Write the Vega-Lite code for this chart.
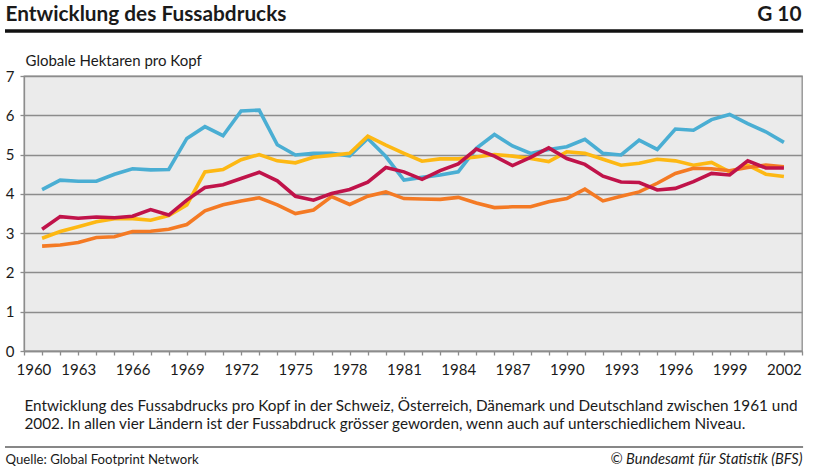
{
  "$schema": "https://vega.github.io/schema/vega-lite/v6.json",
  "width": 778,
  "height": 275,
  "autosize": {"type": "none"},
  "padding": {"left": 24, "top": 76, "right": 18, "bottom": 123},
  "background": "white",
  "config": {
    "font": "Lato",
    "view": {"fill": "#ebebeb", "stroke": "#8c8c8c", "strokeWidth": 1.3}
  },
  "resolve": {
    "scale": {"x": "independent", "y": "independent"},
    "axis": {"x": "independent", "y": "independent"}
  },
  "layer": [
    {
      "data": {
        "values": [
          {"land": "Dänemark", "jahr": 1961, "wert": 4.11}, {"land": "Dänemark", "jahr": 1962, "wert": 4.35}, {"land": "Dänemark", "jahr": 1963, "wert": 4.32}, {"land": "Dänemark", "jahr": 1964, "wert": 4.32}, {"land": "Dänemark", "jahr": 1965, "wert": 4.50}, {"land": "Dänemark", "jahr": 1966, "wert": 4.64}, {"land": "Dänemark", "jahr": 1967, "wert": 4.61}, {"land": "Dänemark", "jahr": 1968, "wert": 4.62}, {"land": "Dänemark", "jahr": 1969, "wert": 5.41}, {"land": "Dänemark", "jahr": 1970, "wert": 5.71}, {"land": "Dänemark", "jahr": 1971, "wert": 5.48}, {"land": "Dänemark", "jahr": 1972, "wert": 6.11}, {"land": "Dänemark", "jahr": 1973, "wert": 6.13}, {"land": "Dänemark", "jahr": 1974, "wert": 5.25}, {"land": "Dänemark", "jahr": 1975, "wert": 4.99}, {"land": "Dänemark", "jahr": 1976, "wert": 5.03}, {"land": "Dänemark", "jahr": 1977, "wert": 5.03}, {"land": "Dänemark", "jahr": 1978, "wert": 4.97}, {"land": "Dänemark", "jahr": 1979, "wert": 5.41}, {"land": "Dänemark", "jahr": 1980, "wert": 4.95}, {"land": "Dänemark", "jahr": 1981, "wert": 4.35}, {"land": "Dänemark", "jahr": 1982, "wert": 4.42}, {"land": "Dänemark", "jahr": 1983, "wert": 4.48}, {"land": "Dänemark", "jahr": 1984, "wert": 4.56}, {"land": "Dänemark", "jahr": 1985, "wert": 5.16}, {"land": "Dänemark", "jahr": 1986, "wert": 5.51}, {"land": "Dänemark", "jahr": 1987, "wert": 5.22}, {"land": "Dänemark", "jahr": 1988, "wert": 5.03}, {"land": "Dänemark", "jahr": 1989, "wert": 5.13}, {"land": "Dänemark", "jahr": 1990, "wert": 5.20}, {"land": "Dänemark", "jahr": 1991, "wert": 5.39}, {"land": "Dänemark", "jahr": 1992, "wert": 5.03}, {"land": "Dänemark", "jahr": 1993, "wert": 4.99}, {"land": "Dänemark", "jahr": 1994, "wert": 5.37}, {"land": "Dänemark", "jahr": 1995, "wert": 5.13}, {"land": "Dänemark", "jahr": 1996, "wert": 5.65}, {"land": "Dänemark", "jahr": 1997, "wert": 5.62}, {"land": "Dänemark", "jahr": 1998, "wert": 5.89}, {"land": "Dänemark", "jahr": 1999, "wert": 6.02}, {"land": "Dänemark", "jahr": 2000, "wert": 5.79}, {"land": "Dänemark", "jahr": 2001, "wert": 5.58}, {"land": "Dänemark", "jahr": 2002, "wert": 5.31},
          {"land": "Deutschland", "jahr": 1961, "wert": 2.87}, {"land": "Deutschland", "jahr": 1962, "wert": 3.04}, {"land": "Deutschland", "jahr": 1963, "wert": 3.16}, {"land": "Deutschland", "jahr": 1964, "wert": 3.29}, {"land": "Deutschland", "jahr": 1965, "wert": 3.37}, {"land": "Deutschland", "jahr": 1966, "wert": 3.37}, {"land": "Deutschland", "jahr": 1967, "wert": 3.33}, {"land": "Deutschland", "jahr": 1968, "wert": 3.45}, {"land": "Deutschland", "jahr": 1969, "wert": 3.72}, {"land": "Deutschland", "jahr": 1970, "wert": 4.56}, {"land": "Deutschland", "jahr": 1971, "wert": 4.62}, {"land": "Deutschland", "jahr": 1972, "wert": 4.87}, {"land": "Deutschland", "jahr": 1973, "wert": 5.00}, {"land": "Deutschland", "jahr": 1974, "wert": 4.84}, {"land": "Deutschland", "jahr": 1975, "wert": 4.79}, {"land": "Deutschland", "jahr": 1976, "wert": 4.93}, {"land": "Deutschland", "jahr": 1977, "wert": 4.98}, {"land": "Deutschland", "jahr": 1978, "wert": 5.03}, {"land": "Deutschland", "jahr": 1979, "wert": 5.47}, {"land": "Deutschland", "jahr": 1980, "wert": 5.24}, {"land": "Deutschland", "jahr": 1981, "wert": 5.03}, {"land": "Deutschland", "jahr": 1982, "wert": 4.83}, {"land": "Deutschland", "jahr": 1983, "wert": 4.89}, {"land": "Deutschland", "jahr": 1984, "wert": 4.89}, {"land": "Deutschland", "jahr": 1985, "wert": 4.94}, {"land": "Deutschland", "jahr": 1986, "wert": 5.00}, {"land": "Deutschland", "jahr": 1987, "wert": 4.96}, {"land": "Deutschland", "jahr": 1988, "wert": 4.90}, {"land": "Deutschland", "jahr": 1989, "wert": 4.82}, {"land": "Deutschland", "jahr": 1990, "wert": 5.07}, {"land": "Deutschland", "jahr": 1991, "wert": 5.03}, {"land": "Deutschland", "jahr": 1992, "wert": 4.88}, {"land": "Deutschland", "jahr": 1993, "wert": 4.73}, {"land": "Deutschland", "jahr": 1994, "wert": 4.78}, {"land": "Deutschland", "jahr": 1995, "wert": 4.88}, {"land": "Deutschland", "jahr": 1996, "wert": 4.84}, {"land": "Deutschland", "jahr": 1997, "wert": 4.73}, {"land": "Deutschland", "jahr": 1998, "wert": 4.80}, {"land": "Deutschland", "jahr": 1999, "wert": 4.56}, {"land": "Deutschland", "jahr": 2000, "wert": 4.73}, {"land": "Deutschland", "jahr": 2001, "wert": 4.50}, {"land": "Deutschland", "jahr": 2002, "wert": 4.44},
          {"land": "Österreich", "jahr": 1961, "wert": 2.67}, {"land": "Österreich", "jahr": 1962, "wert": 2.70}, {"land": "Österreich", "jahr": 1963, "wert": 2.76}, {"land": "Österreich", "jahr": 1964, "wert": 2.89}, {"land": "Österreich", "jahr": 1965, "wert": 2.91}, {"land": "Österreich", "jahr": 1966, "wert": 3.04}, {"land": "Österreich", "jahr": 1967, "wert": 3.05}, {"land": "Österreich", "jahr": 1968, "wert": 3.10}, {"land": "Österreich", "jahr": 1969, "wert": 3.22}, {"land": "Österreich", "jahr": 1970, "wert": 3.57}, {"land": "Österreich", "jahr": 1971, "wert": 3.72}, {"land": "Österreich", "jahr": 1972, "wert": 3.82}, {"land": "Österreich", "jahr": 1973, "wert": 3.90}, {"land": "Österreich", "jahr": 1974, "wert": 3.72}, {"land": "Österreich", "jahr": 1975, "wert": 3.50}, {"land": "Österreich", "jahr": 1976, "wert": 3.59}, {"land": "Österreich", "jahr": 1977, "wert": 3.93}, {"land": "Österreich", "jahr": 1978, "wert": 3.73}, {"land": "Österreich", "jahr": 1979, "wert": 3.94}, {"land": "Österreich", "jahr": 1980, "wert": 4.05}, {"land": "Österreich", "jahr": 1981, "wert": 3.88}, {"land": "Österreich", "jahr": 1982, "wert": 3.87}, {"land": "Österreich", "jahr": 1983, "wert": 3.86}, {"land": "Österreich", "jahr": 1984, "wert": 3.91}, {"land": "Österreich", "jahr": 1985, "wert": 3.77}, {"land": "Österreich", "jahr": 1986, "wert": 3.65}, {"land": "Österreich", "jahr": 1987, "wert": 3.67}, {"land": "Österreich", "jahr": 1988, "wert": 3.67}, {"land": "Österreich", "jahr": 1989, "wert": 3.80}, {"land": "Österreich", "jahr": 1990, "wert": 3.88}, {"land": "Österreich", "jahr": 1991, "wert": 4.12}, {"land": "Österreich", "jahr": 1992, "wert": 3.82}, {"land": "Österreich", "jahr": 1993, "wert": 3.94}, {"land": "Österreich", "jahr": 1994, "wert": 4.05}, {"land": "Österreich", "jahr": 1995, "wert": 4.27}, {"land": "Österreich", "jahr": 1996, "wert": 4.52}, {"land": "Österreich", "jahr": 1997, "wert": 4.65}, {"land": "Österreich", "jahr": 1998, "wert": 4.64}, {"land": "Österreich", "jahr": 1999, "wert": 4.59}, {"land": "Österreich", "jahr": 2000, "wert": 4.67}, {"land": "Österreich", "jahr": 2001, "wert": 4.73}, {"land": "Österreich", "jahr": 2002, "wert": 4.69},
          {"land": "Schweiz", "jahr": 1961, "wert": 3.10}, {"land": "Schweiz", "jahr": 1962, "wert": 3.42}, {"land": "Schweiz", "jahr": 1963, "wert": 3.38}, {"land": "Schweiz", "jahr": 1964, "wert": 3.41}, {"land": "Schweiz", "jahr": 1965, "wert": 3.39}, {"land": "Schweiz", "jahr": 1966, "wert": 3.43}, {"land": "Schweiz", "jahr": 1967, "wert": 3.60}, {"land": "Schweiz", "jahr": 1968, "wert": 3.46}, {"land": "Schweiz", "jahr": 1969, "wert": 3.84}, {"land": "Schweiz", "jahr": 1970, "wert": 4.16}, {"land": "Schweiz", "jahr": 1971, "wert": 4.23}, {"land": "Schweiz", "jahr": 1972, "wert": 4.39}, {"land": "Schweiz", "jahr": 1973, "wert": 4.55}, {"land": "Schweiz", "jahr": 1974, "wert": 4.33}, {"land": "Schweiz", "jahr": 1975, "wert": 3.94}, {"land": "Schweiz", "jahr": 1976, "wert": 3.84}, {"land": "Schweiz", "jahr": 1977, "wert": 4.01}, {"land": "Schweiz", "jahr": 1978, "wert": 4.11}, {"land": "Schweiz", "jahr": 1979, "wert": 4.30}, {"land": "Schweiz", "jahr": 1980, "wert": 4.67}, {"land": "Schweiz", "jahr": 1981, "wert": 4.56}, {"land": "Schweiz", "jahr": 1982, "wert": 4.37}, {"land": "Schweiz", "jahr": 1983, "wert": 4.59}, {"land": "Schweiz", "jahr": 1984, "wert": 4.76}, {"land": "Schweiz", "jahr": 1985, "wert": 5.14}, {"land": "Schweiz", "jahr": 1986, "wert": 4.96}, {"land": "Schweiz", "jahr": 1987, "wert": 4.72}, {"land": "Schweiz", "jahr": 1988, "wert": 4.93}, {"land": "Schweiz", "jahr": 1989, "wert": 5.17}, {"land": "Schweiz", "jahr": 1990, "wert": 4.90}, {"land": "Schweiz", "jahr": 1991, "wert": 4.75}, {"land": "Schweiz", "jahr": 1992, "wert": 4.45}, {"land": "Schweiz", "jahr": 1993, "wert": 4.30}, {"land": "Schweiz", "jahr": 1994, "wert": 4.29}, {"land": "Schweiz", "jahr": 1995, "wert": 4.10}, {"land": "Schweiz", "jahr": 1996, "wert": 4.14}, {"land": "Schweiz", "jahr": 1997, "wert": 4.31}, {"land": "Schweiz", "jahr": 1998, "wert": 4.52}, {"land": "Schweiz", "jahr": 1999, "wert": 4.48}, {"land": "Schweiz", "jahr": 2000, "wert": 4.84}, {"land": "Schweiz", "jahr": 2001, "wert": 4.66}, {"land": "Schweiz", "jahr": 2002, "wert": 4.66}
        ]
      },
      "mark": {"type": "line", "strokeWidth": 3.6},
      "encoding": {
        "x": {
          "field": "jahr",
          "type": "quantitative",
          "scale": {"domain": [1960, 2003], "nice": false, "zero": false},
          "axis": {
            "orient": "bottom",
            "values": [1960, 1961, 1962, 1963, 1964, 1965, 1966, 1967, 1968, 1969, 1970, 1971, 1972, 1973, 1974, 1975, 1976, 1977, 1978, 1979, 1980, 1981, 1982, 1983, 1984, 1985, 1986, 1987, 1988, 1989, 1990, 1991, 1992, 1993, 1994, 1995, 1996, 1997, 1998, 1999, 2000, 2001, 2002, 2003],
            "labelExpr": "(datum.value - 1960) % 3 == 0 ? toString(datum.value) : ''",
            "labelOverlap": false,
            "labelBound": false,
            "labelFlush": true,
            "labelFlushOffset": 8,
            "labelFontSize": 15,
            "labelPadding": 7,
            "labelColor": "#1a1a1a",
            "grid": false,
            "domain": true,
            "domainColor": "#8c8c8c",
            "domainWidth": 1.3,
            "ticks": true,
            "tickSize": 4,
            "tickColor": "#8c8c8c",
            "tickWidth": 1.3,
            "title": ["Entwicklung des Fussabdrucks pro Kopf in der Schweiz, Österreich, Dänemark und Deutschland zwischen 1961 und", "2002. In allen vier Ländern ist der Fussabdruck grösser geworden, wenn auch auf unterschiedlichem Niveau."],
            "titleX": 0,
            "titleY": 59.7,
            "titleAlign": "left",
            "titleAnchor": "start",
            "titleBaseline": "alphabetic",
            "titleFontSize": 15.3,
            "titleFontWeight": "normal",
            "titleLineHeight": 18.3,
            "titleColor": "#1a1a1a"
          }
        },
        "y": {
          "field": "wert",
          "type": "quantitative",
          "scale": {"domain": [0, 7], "nice": false},
          "axis": {
            "orient": "left",
            "values": [0, 1, 2, 3, 4, 5, 6, 7],
            "format": "d",
            "grid": true,
            "gridColor": "#8c8c8c",
            "gridWidth": 1.3,
            "domain": true,
            "domainColor": "#8c8c8c",
            "domainWidth": 1.3,
            "ticks": true,
            "tickSize": 4,
            "tickColor": "#8c8c8c",
            "tickWidth": 1.3,
            "labelFontSize": 15,
            "labelPadding": 6,
            "labelColor": "#1a1a1a",
            "title": "Globale Hektaren pro Kopf",
            "titleAngle": 0,
            "titleX": 1,
            "titleY": -11,
            "titleAlign": "left",
            "titleBaseline": "alphabetic",
            "titleFontSize": 15,
            "titleFontWeight": "normal",
            "titleColor": "#1a1a1a"
          }
        },
        "color": {
          "field": "land",
          "type": "nominal",
          "scale": {"domain": ["Dänemark", "Deutschland", "Österreich", "Schweiz"], "range": ["#4aaed3", "#fdb813", "#f47a24", "#c0134a"]},
          "legend": null
        }
      }
    },
    {
      "data": {"values": [{}]},
      "mark": {"type": "rule", "color": "#111111", "strokeWidth": 3.6, "clip": false},
      "encoding": {
        "x": {
          "datum": 1958.95,
          "type": "quantitative",
          "scale": {"domain": [1960, 2003], "nice": false, "zero": false},
          "axis": {
            "orient": "top",
            "domain": false, "ticks": false, "labels": false, "grid": false,
            "title": "Entwicklung des Fussabdrucks",
            "titleX": -19,
            "titleY": -55.3,
            "titleAlign": "left",
            "titleAnchor": "start",
            "titleBaseline": "alphabetic",
            "titleFontSize": 20.8,
            "titleFontWeight": "bold",
            "titleColor": "#1a1a1a"
          }
        },
        "x2": {"datum": 2003.06},
        "y": {
          "datum": 8.145,
          "type": "quantitative",
          "scale": {"domain": [0, 7], "nice": false},
          "axis": {
            "orient": "right",
            "domain": false, "ticks": false, "labels": false, "grid": false,
            "title": "G 10",
            "titleAngle": 0,
            "titleX": -1,
            "titleY": -55.3,
            "titleAlign": "right",
            "titleBaseline": "alphabetic",
            "titleFontSize": 20.8,
            "titleFontWeight": "bold",
            "titleColor": "#1a1a1a"
          }
        }
      }
    },
    {
      "data": {"values": [{}]},
      "mark": {"type": "rule", "color": "#111111", "strokeWidth": 1.2, "clip": false},
      "encoding": {
        "x": {
          "datum": 1958.95,
          "type": "quantitative",
          "scale": {"domain": [1960, 2003], "nice": false, "zero": false},
          "axis": {
            "orient": "bottom",
            "domain": false, "ticks": false, "labels": false, "grid": false,
            "title": "Quelle: Global Footprint Network",
            "titleX": -19,
            "titleY": 112,
            "titleAlign": "left",
            "titleAnchor": "start",
            "titleBaseline": "alphabetic",
            "titleFontSize": 13.2,
            "titleFontWeight": "normal",
            "titleColor": "#1a1a1a"
          }
        },
        "x2": {"datum": 2003.06},
        "y": {
          "datum": -2.443,
          "type": "quantitative",
          "scale": {"domain": [0, 7], "nice": false},
          "axis": {
            "orient": "right",
            "domain": false, "ticks": false, "labels": false, "grid": false,
            "title": "© Bundesamt für Statistik (BFS)",
            "titleAngle": 0,
            "titleX": 0,
            "titleY": 387,
            "titleAlign": "right",
            "titleBaseline": "alphabetic",
            "titleFontSize": 14.6,
            "titleFontWeight": "normal",
            "titleFontStyle": "italic",
            "titleColor": "#1a1a1a"
          }
        }
      }
    }
  ]
}
